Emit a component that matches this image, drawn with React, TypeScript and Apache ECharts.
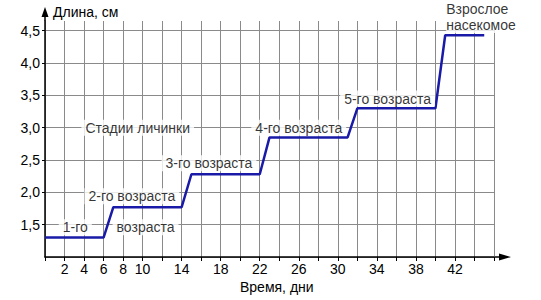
import React, { useEffect, useRef } from "react";
import * as echarts from "echarts";

const days: number[] = [0, 6, 7, 14, 15, 22, 23, 31, 32, 40, 41, 45];
const lengths: number[] = [1.3, 1.3, 1.77, 1.77, 2.28, 2.28, 2.85, 2.85, 3.3, 3.3, 4.43, 4.43];

const stageLabels: string[] = [
  "Стадии личинки",
  "1-го",
  "2-го возраста",
  "возраста",
  "3-го возраста",
  "4-го возраста",
  "5-го возраста",
];
const stageLabelX: number[] = [9.5, 3.1, 8.9, 10.3, 16.8, 26.0, 35.1];
const stageLabelY: number[] = [3.0, 1.46, 1.94, 1.46, 2.45, 3.0, 3.45];

const adultLabel = "Взрослое\nнасекомое";
const adultX = 41.1;
const adultY = 4.71;

const xLabelDays: number[] = [2, 4, 6, 8, 10, 14, 18, 22, 26, 30, 34, 38, 42];
const yTickLabels: number[] = [1.5, 2.0, 2.5, 3.0, 3.5, 4.0, 4.5];

const FONT = "Liberation Sans, Arial, sans-serif";
const FS = 14;

export default function App() {
  const ref = useRef<HTMLDivElement>(null);
  useEffect(() => {
    if (!ref.current) return;
    const chart = echarts.init(ref.current, null, { renderer: "svg" });
    const gridLeft = 45;
    const gridRight = 47;
    const gridTop = 21;
    const gridBottom = 43;
    const W = 541;
    const H = 300;
    const axisY = H - gridBottom;
    const axisXEnd = W - gridRight;
    chart.setOption({
      animation: false,
      backgroundColor: "#ffffff",
      grid: { left: gridLeft, right: gridRight, top: gridTop, bottom: gridBottom },
      xAxis: {
        type: "value",
        min: 0,
        max: 46,
        interval: 2,
        axisLine: { show: true, lineStyle: { color: "#000", width: 1.5 } },
        axisTick: { show: true, length: 4, lineStyle: { color: "#000" } },
        axisLabel: {
          color: "#000",
          fontFamily: FONT,
          fontSize: FS,
          margin: 5,
          formatter: (v: number) => (xLabelDays.indexOf(v) >= 0 ? String(v) : ""),
        },
        splitLine: { show: true, lineStyle: { color: "#8a8a8a", width: 1 } },
      },
      yAxis: {
        type: "value",
        min: 1,
        max: 4.65,
        interval: 0.5,
        axisLine: { show: true, lineStyle: { color: "#000", width: 1.5 } },
        axisTick: { show: true, length: 3, lineStyle: { color: "#000" } },
        axisLabel: {
          color: "#000",
          fontFamily: FONT,
          fontSize: FS,
          margin: 5,
          showMinLabel: false,
          showMaxLabel: false,
          formatter: (v: number) => {
            const r = Math.round(v * 10) / 10;
            return yTickLabels.indexOf(r) >= 0 && Math.abs(r - v) < 1e-6
              ? r.toFixed(1).replace(".", ",")
              : "";
          },
        },
        splitLine: { show: true, showMaxLine: false, lineStyle: { color: "#8a8a8a", width: 1 } },
      },
      series: [
        {
          type: "line",
          data: days.map((d, i) => [d, lengths[i]]),
          showSymbol: false,
          symbol: "none",
          lineStyle: { color: "#1a1aa8", width: 2.5 },
          z: 3,
        },
        {
          type: "scatter",
          symbolSize: 0,
          clip: false,
          data: stageLabels.map((t, i) => ({ value: [stageLabelX[i], stageLabelY[i]], name: t })),
          label: {
            show: true,
            position: "inside",
            formatter: (p: any) => p.name,
            color: "#000",
            fontFamily: FONT,
            fontSize: FS,
            backgroundColor: "#ffffff",
            padding: [1, 4, 1, 4],
          },
          z: 4,
        },
        {
          type: "scatter",
          symbolSize: 0,
          clip: false,
          data: [{ value: [adultX, adultY], name: adultLabel }],
          label: {
            show: true,
            position: "right",
            distance: 0,
            align: "left",
            formatter: (p: any) => p.name,
            color: "#000",
            fontFamily: FONT,
            fontSize: FS,
            lineHeight: 16,
            backgroundColor: "#ffffff",
            padding: [0, 2, 0, 0],
          },
          z: 4,
        },
      ],
      graphic: [
        {
          type: "line",
          shape: { x1: gridLeft, y1: gridTop, x2: gridLeft, y2: 14 },
          style: { stroke: "#000", lineWidth: 1.5 },
        },
        {
          type: "polygon",
          shape: { points: [[gridLeft, 7], [gridLeft - 3.5, 17], [gridLeft + 3.5, 17]] },
          style: { fill: "#000" },
        },
        {
          type: "line",
          shape: { x1: axisXEnd, y1: axisY, x2: 502, y2: axisY },
          style: { stroke: "#000", lineWidth: 1.5 },
        },
        {
          type: "polygon",
          shape: { points: [[511, axisY], [499, axisY - 3.5], [499, axisY + 3.5]] },
          style: { fill: "#000" },
        },
        {
          type: "text",
          left: 53,
          top: 5,
          style: { text: "Длина, см", fill: "#000", font: `${FS}px ${FONT}` },
        },
        {
          type: "text",
          left: 240,
          top: 280,
          style: { text: "Время, дни", fill: "#000", font: `${FS}px ${FONT}` },
        },
      ],
    });
    return () => chart.dispose();
  }, []);
  return (
    <div
      ref={ref}
      style={{ position: "fixed", left: 0, top: 0, width: 541, height: 300 }}
    />
  );
}
